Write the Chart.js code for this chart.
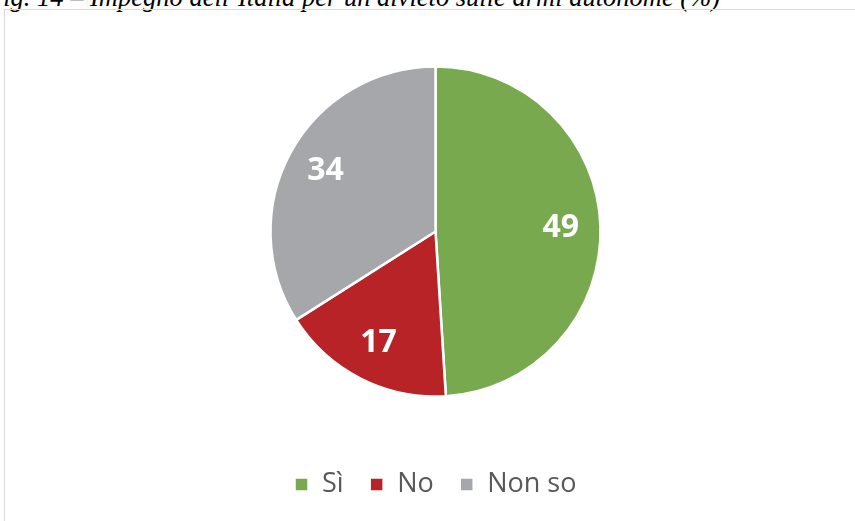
<!DOCTYPE html>
<html lang="it">
<head>
  <meta charset="UTF-8" />
  <title>Impegno dell'Italia per un divieto sulle armi autonome</title>
  <style>
    body {
      margin: 0;
      width: 855px;
      height: 521px;
      overflow: hidden;
      background: #fff;
      position: relative;
    }

    #caption {
      position: absolute;
      left: -13px;
      top: -18px;
      font-family: "Liberation Serif", serif;
      font-style: italic;
      font-size: 26.5px;
      color: #000;
      white-space: nowrap;
    }

    #frame {
      position: absolute;
      left: 4px;
      top: 9px;
      width: 900px;
      height: 600px;
      border: 1px solid #d9d9d9;
      pointer-events: none;
    }

    #wrap {
      position: absolute;
      left: 0;
      top: 0;
      width: 855px;
      height: 521px;
    }
  </style>
</head>
<body>
  <div id="caption">Fig. 14 – Impegno dell’Italia per un divieto sulle armi autonome (%)</div>
  <div id="frame"></div>
  <div id="wrap"><canvas id="pie"></canvas></div>

  <script src="https://cdn.jsdelivr.net/npm/chart.js"></script>
  <script>
    const categories = ["Sì", "No", "Non so"];
    const values = [49, 17, 34];
    const colors = ["#79a94f", "#b72327", "#a6a7ab"];

    // writes each slice's value inside it, in white
    const sliceLabels = {
      id: "sliceLabels",
      afterDatasetsDraw(chart) {
        const ctx = chart.ctx;
        const meta = chart.getDatasetMeta(0);
        ctx.save();
        ctx.fillStyle = "#fff";
        ctx.font = "bold 32px 'Open Sans'";
        ctx.textAlign = "center";
        ctx.textBaseline = "middle";
        meta.data.forEach((arc, i) => {
          const mid = (arc.startAngle + arc.endAngle) / 2;
          const r = arc.outerRadius * 0.76;
          ctx.fillText(values[i], arc.x + Math.cos(mid) * r, arc.y + Math.sin(mid) * r);
        });
        ctx.restore();
      }
    };

    new Chart(document.getElementById("pie"), {
      type: "pie",
      data: {
        labels: categories,
        datasets: [{
          data: values,
          backgroundColor: colors,
          borderColor: "#fff",
          borderWidth: 2.5,
          radius: 165
        }]
      },
      options: {
        responsive: true,
        maintainAspectRatio: false,
        animation: false,
        layout: { padding: { top: 18, left: 16, bottom: 13 } },
        plugins: {
          tooltip: { enabled: false },
          legend: {
            position: "bottom",
            labels: {
              boxWidth: 14,
              boxHeight: 14,
              padding: 26,
              color: "#595959",
              font: { family: "'Open Sans'", size: 27 }
            }
          }
        }
      },
      plugins: [sliceLabels]
    });
  </script>
</body>
</html>
